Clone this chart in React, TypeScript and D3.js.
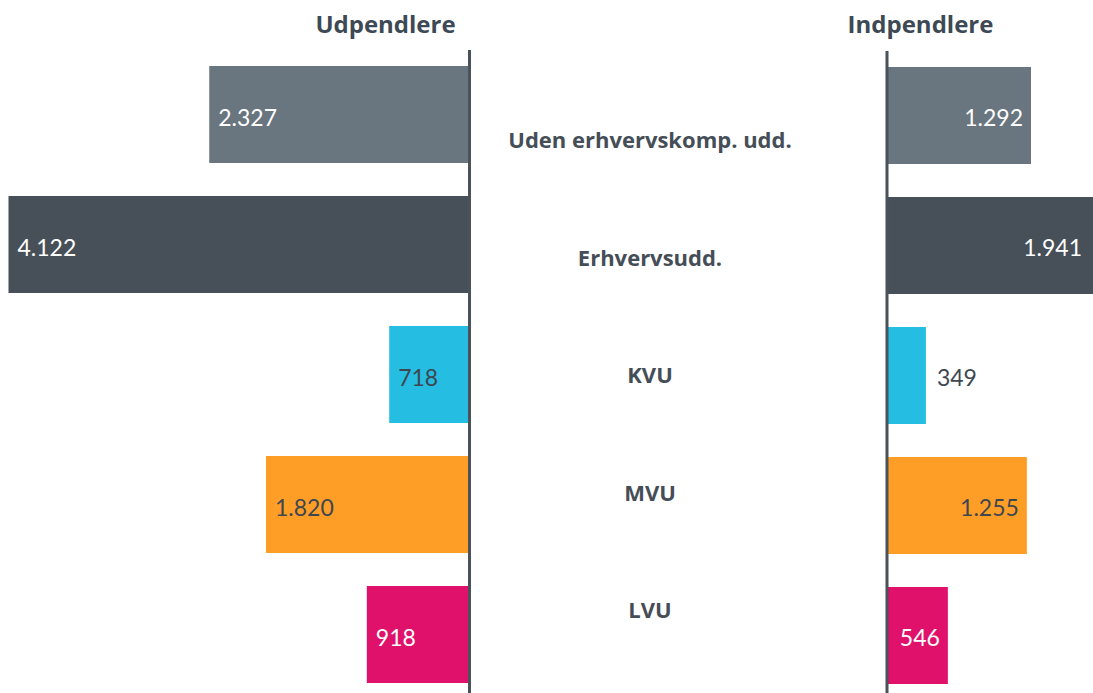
import React from "react";
import * as d3 from "d3";

const categories = ["Uden erhvervskomp. udd.", "Erhvervsudd.", "KVU", "MVU", "LVU"];
const udpendlere = [2327, 4122, 718, 1820, 918];
const indpendlere = [1292, 1941, 349, 1255, 546];
const barColors = ["#69757f", "#474f58", "#25bde1", "#fe9e27", "#e0116a"];
const labelColors = ["#ffffff", "#ffffff", "#3e4750", "#3e4750", "#ffffff"];
const leftTitle = "Udpendlere";
const rightTitle = "Indpendlere";

const W = 1093;
const H = 693;
const fmt = (v: number) => d3.format(",")(v).replace(/,/g, ".");

export default function App() {
  const leftAxisX = 469.5;
  const rightAxisX = 887;
  const xLeft = d3.scaleLinear().domain([0, 4122]).range([0, 461]);
  const xRight = d3.scaleLinear().domain([0, 1292]).range([0, 144]);
  const y = d3
    .scaleBand<string>()
    .domain(categories)
    .range([66, 683])
    .paddingInner(33 / 130)
    .paddingOuter(0);
  const yLabel = d3.scalePoint<string>().domain(categories).range([148, 618]);

  const valueFont = "Lato, 'Open Sans', sans-serif";
  const boldFont = "'Open Sans', 'Noto Sans', sans-serif";

  return (
    <svg
      width={W}
      height={H}
      style={{ position: "absolute", left: 0, top: 0, display: "block", background: "#fff" }}
    >
      <text x={385.5} y={33} textAnchor="middle" fontFamily={boldFont} fontWeight={700} fontSize={24} fill="#3d4954">
        {leftTitle}
      </text>
      <text x={920.5} y={33} textAnchor="middle" fontFamily={boldFont} fontWeight={700} fontSize={24} fill="#3d4954">
        {rightTitle}
      </text>

      {categories.map((c, i) => {
        const y0 = y(c)!;
        const bh = y.bandwidth();
        const wl = xLeft(udpendlere[i]);
        const wr = xRight(indpendlere[i]);
        const rEnd = rightAxisX + wr;
        const outside = wr < 50;
        const rLabelX = outside ? rEnd + 11 : Math.min(rEnd - 8, 1082);
        return (
          <g key={c}>
            <rect x={leftAxisX - wl} y={y0} width={wl} height={bh} fill={barColors[i]} />
            <rect x={rightAxisX} y={y0 + 1} width={wr} height={bh} fill={barColors[i]} />
            <text
              x={leftAxisX - wl + 9}
              y={y0 + bh / 2 + 2}
              dominantBaseline="central"
              fontFamily={valueFont}
              fontWeight={400}
              fontSize={23}
              fill={labelColors[i]}
            >
              {fmt(udpendlere[i])}
            </text>
            <text
              x={rLabelX}
              y={y0 + bh / 2 + 2}
              dominantBaseline="central"
              textAnchor={outside ? "start" : "end"}
              fontFamily={valueFont}
              fontWeight={400}
              fontSize={23}
              fill={outside ? "#3e4750" : labelColors[i]}
            >
              {fmt(indpendlere[i])}
            </text>
            <text
              x={650}
              y={yLabel(c)!}
              textAnchor="middle"
              fontFamily={boldFont}
              fontWeight={700}
              fontSize={22}
              fill="#454e57"
            >
              {c}
            </text>
          </g>
        );
      })}

      <line x1={leftAxisX} x2={leftAxisX} y1={50} y2={H} stroke="#4a525a" strokeWidth={3} />
      <line x1={rightAxisX} x2={rightAxisX} y1={51} y2={H} stroke="#4a525a" strokeWidth={3} />
    </svg>
  );
}
